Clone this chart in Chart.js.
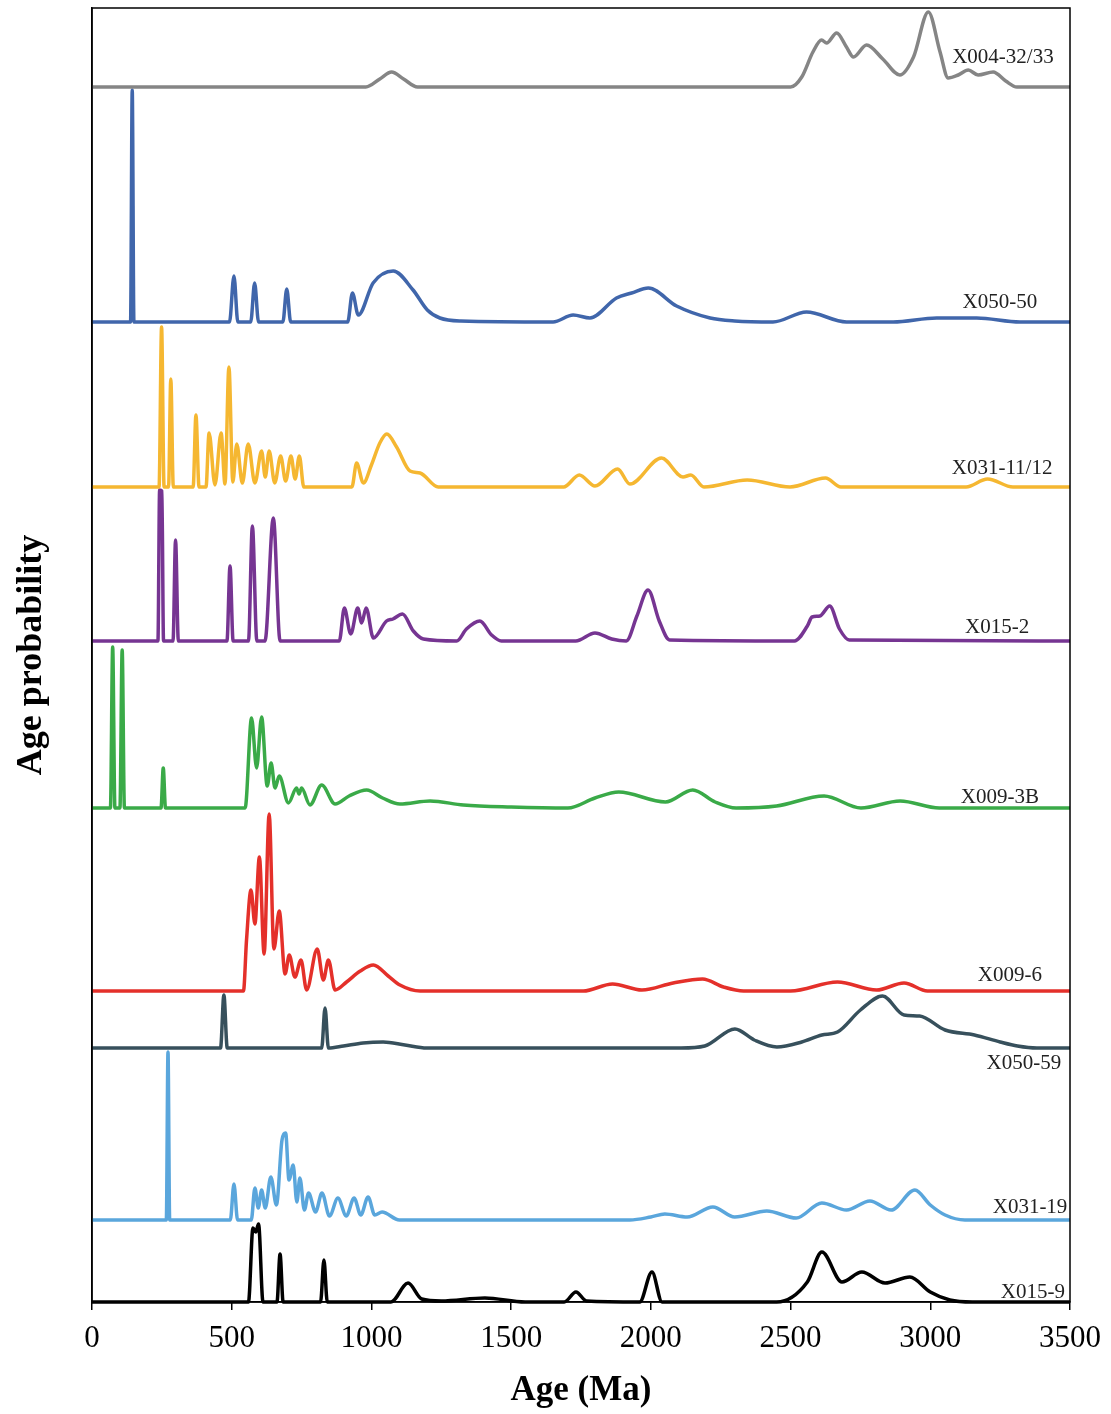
<!DOCTYPE html>
<html>
<head>
<meta charset="utf-8">
<script src="https://cdn.jsdelivr.net/npm/chart.js@4/dist/chart.umd.min.js"></script>
<style>
  html, body { margin: 0; padding: 0; background: #fff; }
  #wrap { width: 1111px; height: 1414px; position: relative; }
</style>
</head>
<body>
<div id="wrap"><canvas id="chart"></canvas></div>
<script>
// sample names, top to bottom
const samples = ['X004-32/33', 'X050-50', 'X031-11/12', 'X015-2', 'X009-3B', 'X009-6', 'X050-59', 'X031-19', 'X015-9'];
const colors = ['#858585', '#4066ab', '#f5b731', '#763592', '#3aaa48', '#e4302a', '#37505c', '#5aa6dc', '#000000'];
// vertical offset of each curve's baseline (stacked plot)
const offsets = [1215, 980, 815, 661, 494, 311, 254, 82, 0];

// age (Ma) and relative probability
const x004Age = [0, 980, 1030, 1072, 1115, 1165, 2500, 2540, 2580, 2611, 2629, 2665, 2700, 2725, 2772, 2830, 2891, 2940, 2993, 3035, 3064, 3100, 3136, 3171, 3225, 3270, 3310, 3500];
const x004Prob = [0, 0, 8, 15, 8, 0, 0, 10, 35, 47, 44, 54, 40, 30, 42, 28, 12, 30, 75, 35, 9, 12, 17, 12, 15, 6, 0, 0];

const x050aAge = [0, 138, 144, 150, 492, 508, 522, 568, 582, 596, 683, 697, 711, 915, 932, 953, 1006, 1078, 1149, 1200, 1245, 1320, 1650, 1722, 1782, 1877, 1931, 1991, 2092, 2212, 2300, 2437, 2557, 2700, 2867, 3023, 3166, 3321, 3500];
const x050aProb = [0, 0, 232, 0, 0, 46, 0, 0, 39, 0, 0, 33, 0, 0, 29, 7, 39, 51, 32, 12, 4, 1, 0, 7, 4, 24, 29, 34, 16, 4, 1, 0, 10, 0, 0, 4, 4, 0, 0];

const x031aAge = [0, 240, 249, 258, 274, 282, 291, 362, 372, 383, 408, 419, 440, 462, 476, 490, 504, 518, 538, 559, 583, 607, 620, 634, 654, 675, 693, 712, 727, 742, 758, 930, 947, 971, 1000, 1030, 1055, 1090, 1138, 1174, 1239, 1688, 1744, 1800, 1881, 1925, 2038, 2115, 2143, 2190, 2345, 2498, 2625, 2680, 3128, 3205, 3296, 3500];
const x031aProb = [0, 0, 160, 0, 0, 108, 0, 0, 72, 0, 0, 54, 2, 54, 3, 120, 5, 43, 4, 43, 4, 36, 10, 36, 4, 31, 6, 31, 8, 31, 0, 0, 24, 4, 22, 44, 53, 40, 16, 14, 0, 0, 12, 1, 18, 3, 29, 10, 12, 0, 7, 0, 9, 0, 0, 8, 0, 0];

const x015aAge = [0, 236, 242, 250, 256, 290, 299, 309, 483, 494, 505, 560, 574, 590, 619, 649, 673, 885, 903, 926, 951, 965, 981, 1007, 1054, 1077, 1111, 1150, 1186, 1305, 1340, 1388, 1430, 1465, 1731, 1800, 1860, 1912, 1950, 1990, 2030, 2067, 2514, 2560, 2577, 2605, 2640, 2675, 2710, 3500];
const x015aProb = [0, 0, 151, 150, 0, 0, 101, 0, 0, 75, 0, 0, 115, 0, 0, 123, 0, 0, 33, 7, 33, 18, 33, 3, 20, 22, 27, 10, 2, 0, 12, 20, 6, 0, 0, 8, 2, 0, 25, 51, 20, 1, 0, 15, 24, 25, 35, 12, 1, 0];

const x009aAge = [0, 66, 74, 82, 100, 108, 116, 247, 255, 263, 548, 571, 589, 607, 627, 641, 655, 670, 703, 732, 741, 750, 780, 822, 870, 920, 983, 1040, 1102, 1210, 1329, 1500, 1703, 1800, 1885, 2052, 2150, 2230, 2305, 2450, 2620, 2752, 2892, 3032, 3500];
const x009aProb = [0, 0, 161, 0, 0, 158, 0, 0, 40, 0, 0, 90, 40, 91, 22, 45, 20, 32, 5, 20, 14, 20, 3, 23, 4, 12, 18, 10, 4, 7, 3, 1, 0, 10, 16, 6, 18, 6, 0, 2, 12, 0, 7, 0, 0];

const x009bAge = [0, 542, 553, 569, 583, 599, 616, 634, 651, 670, 691, 706, 726, 748, 768, 806, 828, 846, 870, 911, 960, 1007, 1060, 1102, 1174, 1758, 1863, 1968, 2080, 2185, 2260, 2332, 2500, 2668, 2808, 2906, 2990, 3500];
const x009bProb = [0, 0, 51, 101, 67, 134, 37, 177, 42, 80, 17, 36, 14, 31, 1, 42, 11, 31, 1, 9, 20, 26, 15, 6, 0, 0, 7, 1, 8, 12, 4, 0, 0, 9, 1, 8, 0, 0];

const x050bAge = [0, 460, 472, 484, 822, 834, 846, 900, 970, 1042, 1120, 1198, 2108, 2193, 2301, 2370, 2451, 2540, 2612, 2668, 2750, 2829, 2906, 2962, 3053, 3158, 3250, 3312, 3381, 3500];
const x050bProb = [0, 0, 53, 0, 0, 40, 0, 2, 5, 6, 3, 0, 0, 2, 19, 8, 1, 6, 13, 16, 38, 52, 33, 32, 18, 13, 6, 2, 0, 0];

const x031bAge = [0, 266, 272, 278, 495, 508, 521, 570, 583, 595, 607, 620, 640, 660, 680, 693, 705, 720, 733, 744, 760, 775, 800, 823, 850, 880, 910, 938, 962, 988, 1012, 1038, 1100, 1925, 2000, 2050, 2130, 2222, 2300, 2415, 2520, 2612, 2700, 2784, 2860, 2945, 3000, 3053, 3124, 3500];
const x031bProb = [0, 0, 168, 0, 0, 36, 0, 0, 32, 12, 30, 12, 43, 15, 80, 87, 40, 55, 18, 42, 10, 27, 8, 27, 4, 22, 4, 22, 5, 23, 5, 8, 0, 0, 3, 6, 3, 13, 3, 9, 2, 17, 10, 19, 10, 30, 15, 5, 0, 0];

const x015bAge = [0, 560, 576, 586, 596, 612, 662, 673, 684, 818, 830, 842, 1070, 1131, 1180, 1250, 1406, 1550, 1690, 1732, 1770, 1960, 2004, 2040, 2450, 2560, 2612, 2684, 2755, 2838, 2927, 3000, 3070, 3150, 3500];
const x015bProb = [0, 0, 74, 70, 78, 0, 0, 48, 0, 0, 42, 0, 0, 19, 3, 1, 4, 0, 0, 10, 1, 0, 30, 0, 0, 20, 50, 20, 30, 19, 25, 10, 2, 0, 0];

const ages = [x004Age, x050aAge, x031aAge, x015aAge, x009aAge, x009bAge, x050bAge, x031bAge, x015bAge];
const probs = [x004Prob, x050aProb, x031aProb, x015aProb, x009aProb, x009bProb, x050bProb, x031bProb, x015bProb];

const xTicks = [0, 500, 1000, 1500, 2000, 2500, 3000, 3500];

// where the sample names sit: [age, height above baseline]
const labelPos = [[3260, 30], [3249, 20], [3257, 19], [3239, 14], [3249, 11], [3285, 16], [3335, -15], [3357, 13], [3367, 10]];

const datasets = samples.map((name, i) => ({
  label: name,
  data: ages[i].map((a, j) => ({ x: a, y: probs[i][j] + offsets[i] })),
  borderColor: colors[i],
  borderWidth: 3.5,
  pointRadius: 0,
  cubicInterpolationMode: 'monotone',
  fill: false,
  clip: 6
}));

const serif = "'Liberation Serif', 'Times New Roman', serif";

const frame = {
  id: 'frame',
  afterDraw(chart) {
    const { ctx, chartArea: a, scales } = chart;
    ctx.save();
    ctx.strokeStyle = '#000';
    ctx.lineWidth = 1.5;
    ctx.strokeRect(a.left, a.top, a.right - a.left, a.bottom - a.top);
    ctx.font = '21px ' + serif;
    ctx.fillStyle = '#222';
    ctx.textAlign = 'center';
    ctx.textBaseline = 'middle';
    samples.forEach((name, i) => {
      const px = scales.x.getPixelForValue(labelPos[i][0]);
      const py = scales.y.getPixelForValue(offsets[i] + labelPos[i][1]);
      ctx.fillText(name, px, py);
    });
    ctx.restore();
  }
};

new Chart(document.getElementById('chart'), {
  type: 'line',
  data: { datasets: datasets },
  options: {
    responsive: true,
    maintainAspectRatio: false,
    animation: false,
    layout: { padding: { top: 8, right: 41, left: 0, bottom: 0 } },
    plugins: {
      legend: { display: false },
      tooltip: { enabled: false }
    },
    scales: {
      x: {
        type: 'linear',
        min: 0,
        max: 3500,
        afterBuildTicks: s => { s.ticks = xTicks.map(v => ({ value: v })); },
        afterFit: s => { s.height = 112; },
        ticks: { color: '#000', font: { family: serif, size: 31 }, padding: 10, maxRotation: 0, callback: v => String(v) },
        grid: { display: true, drawOnChartArea: false, drawTicks: true, tickLength: 8, color: '#000', lineWidth: 1.5 },
        border: { display: true, color: '#000', width: 1.5 },
        title: { display: true, text: 'Age (Ma)', color: '#000', font: { family: serif, size: 35, weight: 'bold' }, padding: { top: 0, bottom: 2 } }
      },
      y: {
        min: 0,
        max: 1294,
        afterFit: s => { s.width = 92; },
        ticks: { display: false },
        grid: { display: false },
        border: { display: true, color: '#000', width: 1.5 },
        title: { display: true, text: 'Age probability', color: '#000', font: { family: serif, size: 36, weight: 'bold' }, padding: { top: 10, bottom: 0 } }
      }
    }
  },
  plugins: [frame]
});
</script>
</body>
</html>
